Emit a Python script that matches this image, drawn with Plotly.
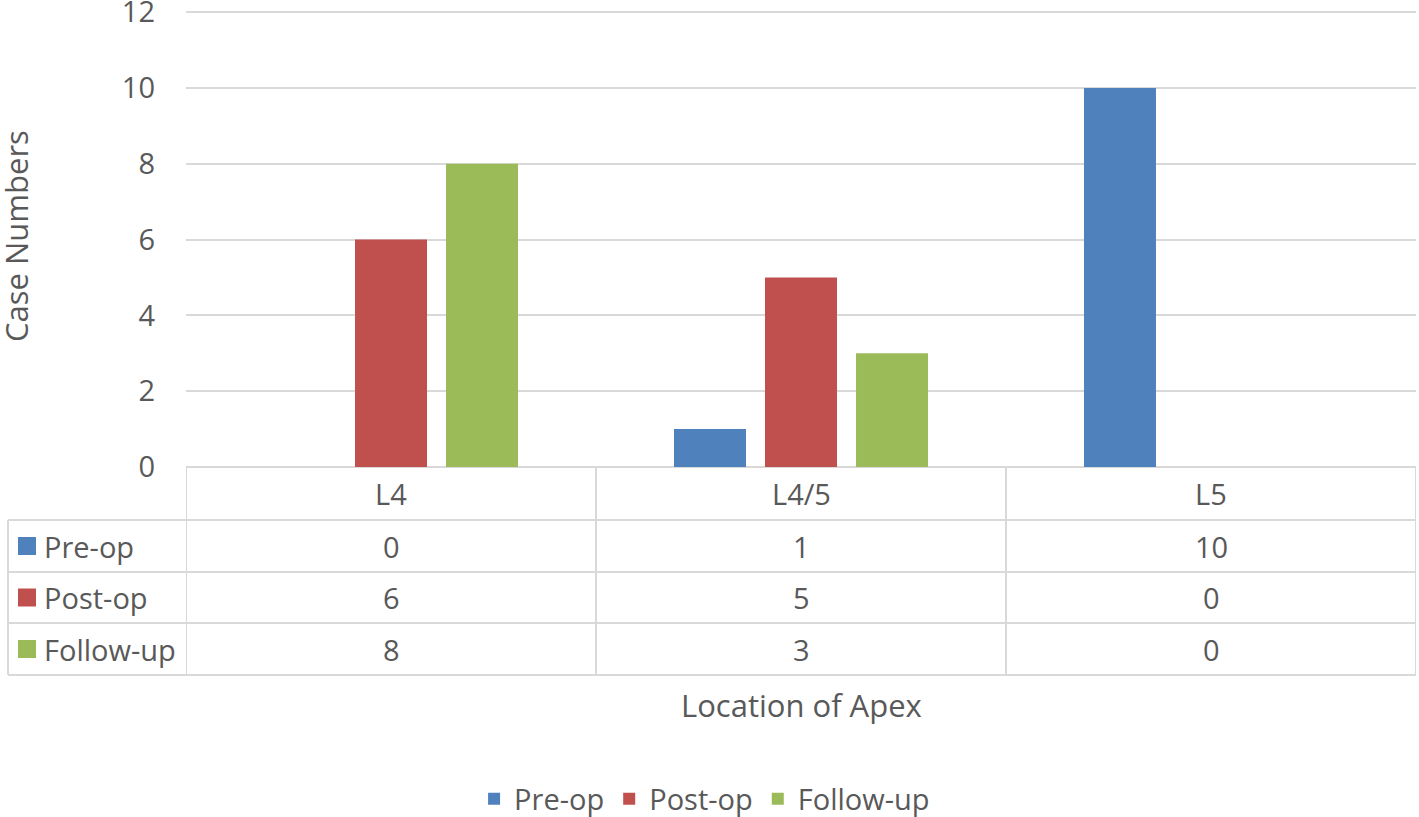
import plotly.graph_objects as go

categories = ["L4", "L4/5", "L5"]
series_names = ["Pre-op", "Post-op", "Follow-up"]
pre_op = [0, 1, 10]
post_op = [6, 5, 0]
follow_up = [8, 3, 0]
y_ticks = [0, 2, 4, 6, 8, 10, 12]
colors = ["#4F81BD", "#C0504D", "#9BBB59"]
series_values = [pre_op, post_op, follow_up]

W, H = 1419, 817
ml, mr, mt, mb = 186, 3, 11, 350
pw = W - ml - mr
ph = H - mt - mb
FONT = "Open Sans"
TXT = "#595959"
GRID = "#D9D9D9"
FS = 29

def py(pix):
    return (H - mb - pix) / ph

def px(pix):
    return (pix - ml) / pw

fig = go.Figure()
for name, vals, col in zip(series_names, series_values, colors):
    fig.add_trace(go.Bar(x=categories, y=vals, name=name, marker_color=col,
                         marker_line_width=0))

shapes = []
ann = []
row_y = [467, 520, 572, 623, 675]
line = dict(color=GRID, width=2)
shapes.append(dict(type="line", xref="paper", yref="paper", x0=0, x1=1,
                   y0=py(row_y[0]), y1=py(row_y[0]), line=line, layer="below"))
for ry in row_y[1:]:
    shapes.append(dict(type="line", xref="paper", yref="paper", x0=px(8), x1=1,
                       y0=py(ry), y1=py(ry), line=line))
shapes.append(dict(type="line", xref="paper", yref="paper", x0=px(8), x1=px(8),
                   y0=py(row_y[1]), y1=py(row_y[-1]), line=line))
for k in range(len(categories) + 1):
    shapes.append(dict(type="line", xref="x", yref="paper", x0=k - 0.5, x1=k - 0.5,
                       y0=py(row_y[0]), y1=py(row_y[-1]), line=line))

tfont = dict(family=FONT, size=FS, color=TXT)
for c in categories:
    ann.append(dict(x=c, xref="x", y=py((row_y[0] + row_y[1]) / 2), yref="paper",
                    xanchor="center", yanchor="middle",
                    text=c, showarrow=False, font=tfont))
for i, (name, vals, col) in enumerate(zip(series_names, series_values, colors)):
    yc_pix = (row_y[i + 1] + row_y[i + 2]) / 2
    yc = py(yc_pix)
    shapes.append(dict(type="rect", xref="paper", yref="paper",
                       x0=px(18), x1=px(36), y0=py(yc_pix + 9), y1=py(yc_pix - 9),
                       fillcolor=col, line=dict(width=0)))
    ann.append(dict(x=px(42), xref="paper", y=yc, yref="paper", xanchor="left",
                    yanchor="middle", text=name, showarrow=False, font=tfont))
    for c, v in zip(categories, vals):
        ann.append(dict(x=c, xref="x", y=yc, yref="paper", xanchor="center",
                        yanchor="middle", text=str(v), showarrow=False, font=tfont))

ann.append(dict(x=0.5, xref="paper", y=py(705), yref="paper", xanchor="center",
                yanchor="middle", text="Location of Apex",
                showarrow=False, font=dict(family=FONT, size=31, color=TXT)))
ann.append(dict(x=px(16), xref="paper", y=py(236), yref="paper", xanchor="center",
                yanchor="middle", text="Case Numbers", textangle=-90,
                showarrow=False, font=dict(family=FONT, size=31, color=TXT)))

fig.update_layout(
    width=W, height=H,
    margin=dict(l=ml, r=mr, t=mt, b=mb, autoexpand=False),
    paper_bgcolor="white", plot_bgcolor="white",
    barmode="group", bargap=0.334, bargroupgap=0.209,
    font=dict(family=FONT, color=TXT),
    xaxis=dict(showticklabels=False, showgrid=False, zeroline=False,
               range=[-0.5, 2.5], fixedrange=True, automargin=False),
    yaxis=dict(range=[0, 12.03], tickvals=y_ticks, showgrid=True, gridcolor=GRID,
               gridwidth=2, zeroline=False, tickfont=tfont, automargin=False,
               ticks="", ticklabelstandoff=30, ticklabeloverflow="allow"),
    legend=dict(orientation="h", x=(W / 2 - ml) / pw - 0.004,
                xanchor="center", y=py(799), yanchor="middle",
                font=tfont, itemwidth=30, tracegroupgap=0),
    shapes=shapes, annotations=ann,
)

fig.write_html("out.html", config={"displayModeBar": False},
               post_script="document.body.style.margin='0';document.body.style.overflow='hidden';")
